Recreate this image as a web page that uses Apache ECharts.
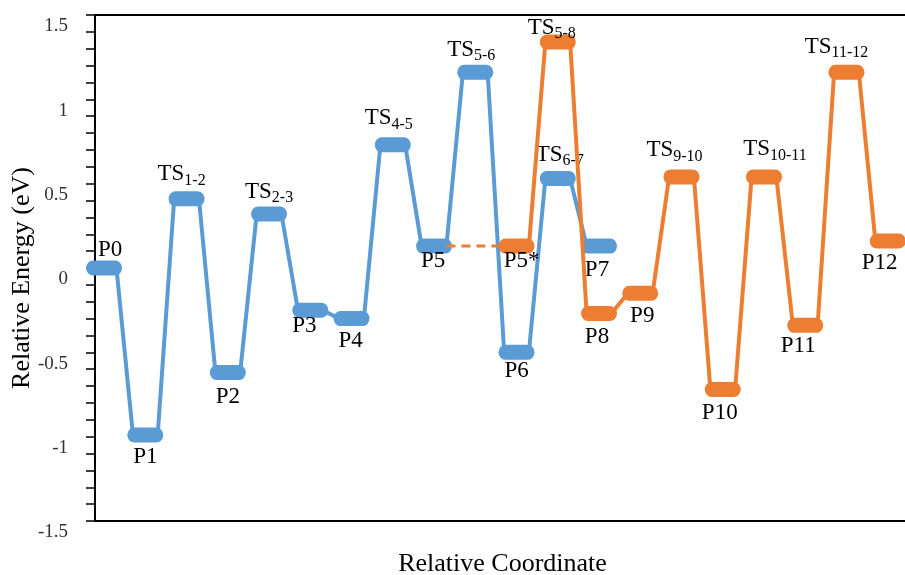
<!DOCTYPE html>
<html>
<head>
<meta charset="utf-8">
<script src="https://cdn.jsdelivr.net/npm/echarts@6/dist/echarts.min.js"></script>
<style>
  html, body { margin: 0; padding: 0; background: #fff; }
  #chart { width: 905px; height: 575px; }
</style>
</head>
<body>
<div id="chart"></div>
<script>
// Reaction path data (slot along the coordinate, energy in eV)
const blueSlots = [0, 1, 2, 3, 4, 5, 6, 7, 8, 9, 10, 11, 12];
const blueNames = ['P0', 'P1', 'TS1-2', 'P2', 'TS2-3', 'P3', 'P4', 'TS4-5', 'P5', 'TS5-6', 'P6', 'TS6-7', 'P7'];
const blueEnergy = [0.00, -0.99, 0.41, -0.62, 0.32, -0.25, -0.30, 0.73, 0.13, 1.16, -0.50, 0.53, 0.13];

const orangeSlots = [10, 11, 12, 13, 14, 15, 16, 17, 18, 19];
const orangeNames = ['P5*', 'TS5-8', 'P8', 'P9', 'TS9-10', 'P10', 'TS10-11', 'P11', 'TS11-12', 'P12'];
const orangeEnergy = [0.13, 1.34, -0.27, -0.15, 0.54, -0.72, 0.54, -0.34, 1.16, 0.16];

// dashed link P5 -> P5*
const linkSlots = [8, 10];
const linkEnergy = [0.13, 0.13];

const yTicks = [-1.5, -1, -0.5, 0, 0.5, 1, 1.5];

const BLUE = '#5B9BD5';
const ORANGE = '#ED7D31';
const FONT = 'Liberation Serif';
const HALF = 0.3; // where the connector meets each level bar

// label placement: [side, distance, dx]
const labelTweak = {
    'P0': ['top', -1, 6], 'P1': ['bottom', 3, 0], 'TS1-2': ['top', 3, -5], 'P2': ['bottom', 5, 0],
    'TS2-3': ['top', 1, 0], 'P3': ['bottom', -3, -6], 'P4': ['bottom', 3, -1], 'TS4-5': ['top', 5, -4],
    'P5': ['bottom', -4, -1], 'TS5-6': ['top', 1, -4], 'P6': ['bottom', 0, 0], 'TS6-7': ['top', 2, 2],
    'P7': ['bottom', 5, -2], 'P5*': ['bottom', -4, 5], 'TS5-8': ['top', -7, -6], 'P8': ['bottom', 4, -2],
    'P9': ['bottom', 4, 2], 'TS9-10': ['top', 5, -7], 'P10': ['bottom', 5, -3], 'TS10-11': ['top', 6, 11],
    'P11': ['bottom', 2, -7], 'TS11-12': ['top', 4, -10], 'P12': ['bottom', 3, -8]
};

const stadium = 'path://M7,0H29A7,7 0 0 1 29,14H7A7,7 0 0 1 7,0Z';

function richName(name) {
    if (name.indexOf('TS') === 0) {
        return '{t|TS}{s|' + name.slice(2) + '}';
    }
    return '{t|' + name + '}';
}

function connectorData(slots, energy) {
    const out = [];
    slots.forEach((s, i) => {
        out.push([s - HALF, energy[i]]);
        out.push([s + HALF, energy[i]]);
    });
    return out;
}

function levelData(slots, energy, names) {
    return slots.map((s, i) => {
        const t = labelTweak[names[i]];
        return {
            value: [s, energy[i]],
            name: names[i],
            label: { position: t[0], distance: t[1], offset: [t[2], 0] }
        };
    });
}

const richStyle = {
    t: { fontSize: 23, fontFamily: FONT, color: '#000' },
    s: { fontSize: 16, fontFamily: FONT, color: '#000', padding: [12, 0, 0, 0] }
};

function levelSeries(slots, energy, names, color, z) {
    return {
        type: 'scatter',
        z: z,
        symbol: stadium,
        symbolSize: [36, 15],
        itemStyle: { color: color, opacity: 1 },
        label: {
            show: true,
            formatter: p => richName(p.name),
            rich: richStyle
        },
        emphasis: { disabled: true },
        data: levelData(slots, energy, names)
    };
}

function pathSeries(slots, energy, color, z) {
    return {
        type: 'line',
        z: z,
        symbol: 'none',
        lineStyle: { color: color, width: 4 },
        emphasis: { disabled: true },
        data: connectorData(slots, energy)
    };
}

const chart = echarts.init(document.getElementById('chart'));
chart.setOption({
    animation: false,
    backgroundColor: '#fff',
    grid: {
        left: 95, right: -5, top: 15, bottom: 54,
        outerBoundsMode: 'none',
        containLabel: false,
        show: true, borderColor: '#000', borderWidth: 2
    },
    xAxis: {
        type: 'value',
        min: -0.22,
        max: 19.54,
        axisLine: { show: true, onZero: false, lineStyle: { color: '#000', width: 2 } },
        axisTick: { show: false },
        axisLabel: { show: false },
        splitLine: { show: false },
        name: 'Relative Coordinate',
        nameLocation: 'middle',
        nameGap: 30,
        nameTextStyle: { fontFamily: FONT, fontSize: 26, color: '#000' }
    },
    yAxis: {
        type: 'value',
        min: yTicks[0],
        max: yTicks[yTicks.length - 1],
        interval: 0.5,
        axisLine: { show: true, onZero: false, lineStyle: { color: '#000', width: 2 } },
        axisTick: { show: true, length: 9, lineStyle: { color: '#000', width: 1.5 } },
        minorTick: { show: true, splitNumber: 5, length: 9, lineStyle: { color: '#000', width: 1.5 } },
        splitLine: { show: false },
        axisLabel: {
            fontFamily: FONT, fontSize: 19, color: '#333', margin: 27,
            verticalAlign: 'top', padding: [2, 0, 0, 0]
        },
        name: 'Relative Energy (eV)',
        nameLocation: 'middle',
        nameGap: 60,
        nameMoveOverlap: false,
        nameTextStyle: { fontFamily: FONT, fontSize: 26, color: '#000', padding: [0, 20, 0, 0] }
    },
    series: [
        pathSeries(blueSlots, blueEnergy, BLUE, 2),
        levelSeries(blueSlots, blueEnergy, blueNames, BLUE, 3),
        {
            type: 'line',
            z: 4,
            symbol: 'none',
            lineStyle: { color: ORANGE, width: 3, type: [9, 6] },
            emphasis: { disabled: true },
            data: [[linkSlots[0] + HALF, linkEnergy[0]], [linkSlots[1] - HALF, linkEnergy[1]]]
        },
        pathSeries(orangeSlots, orangeEnergy, ORANGE, 4),
        levelSeries(orangeSlots, orangeEnergy, orangeNames, ORANGE, 5)
    ]
});
</script>
</body>
</html>
